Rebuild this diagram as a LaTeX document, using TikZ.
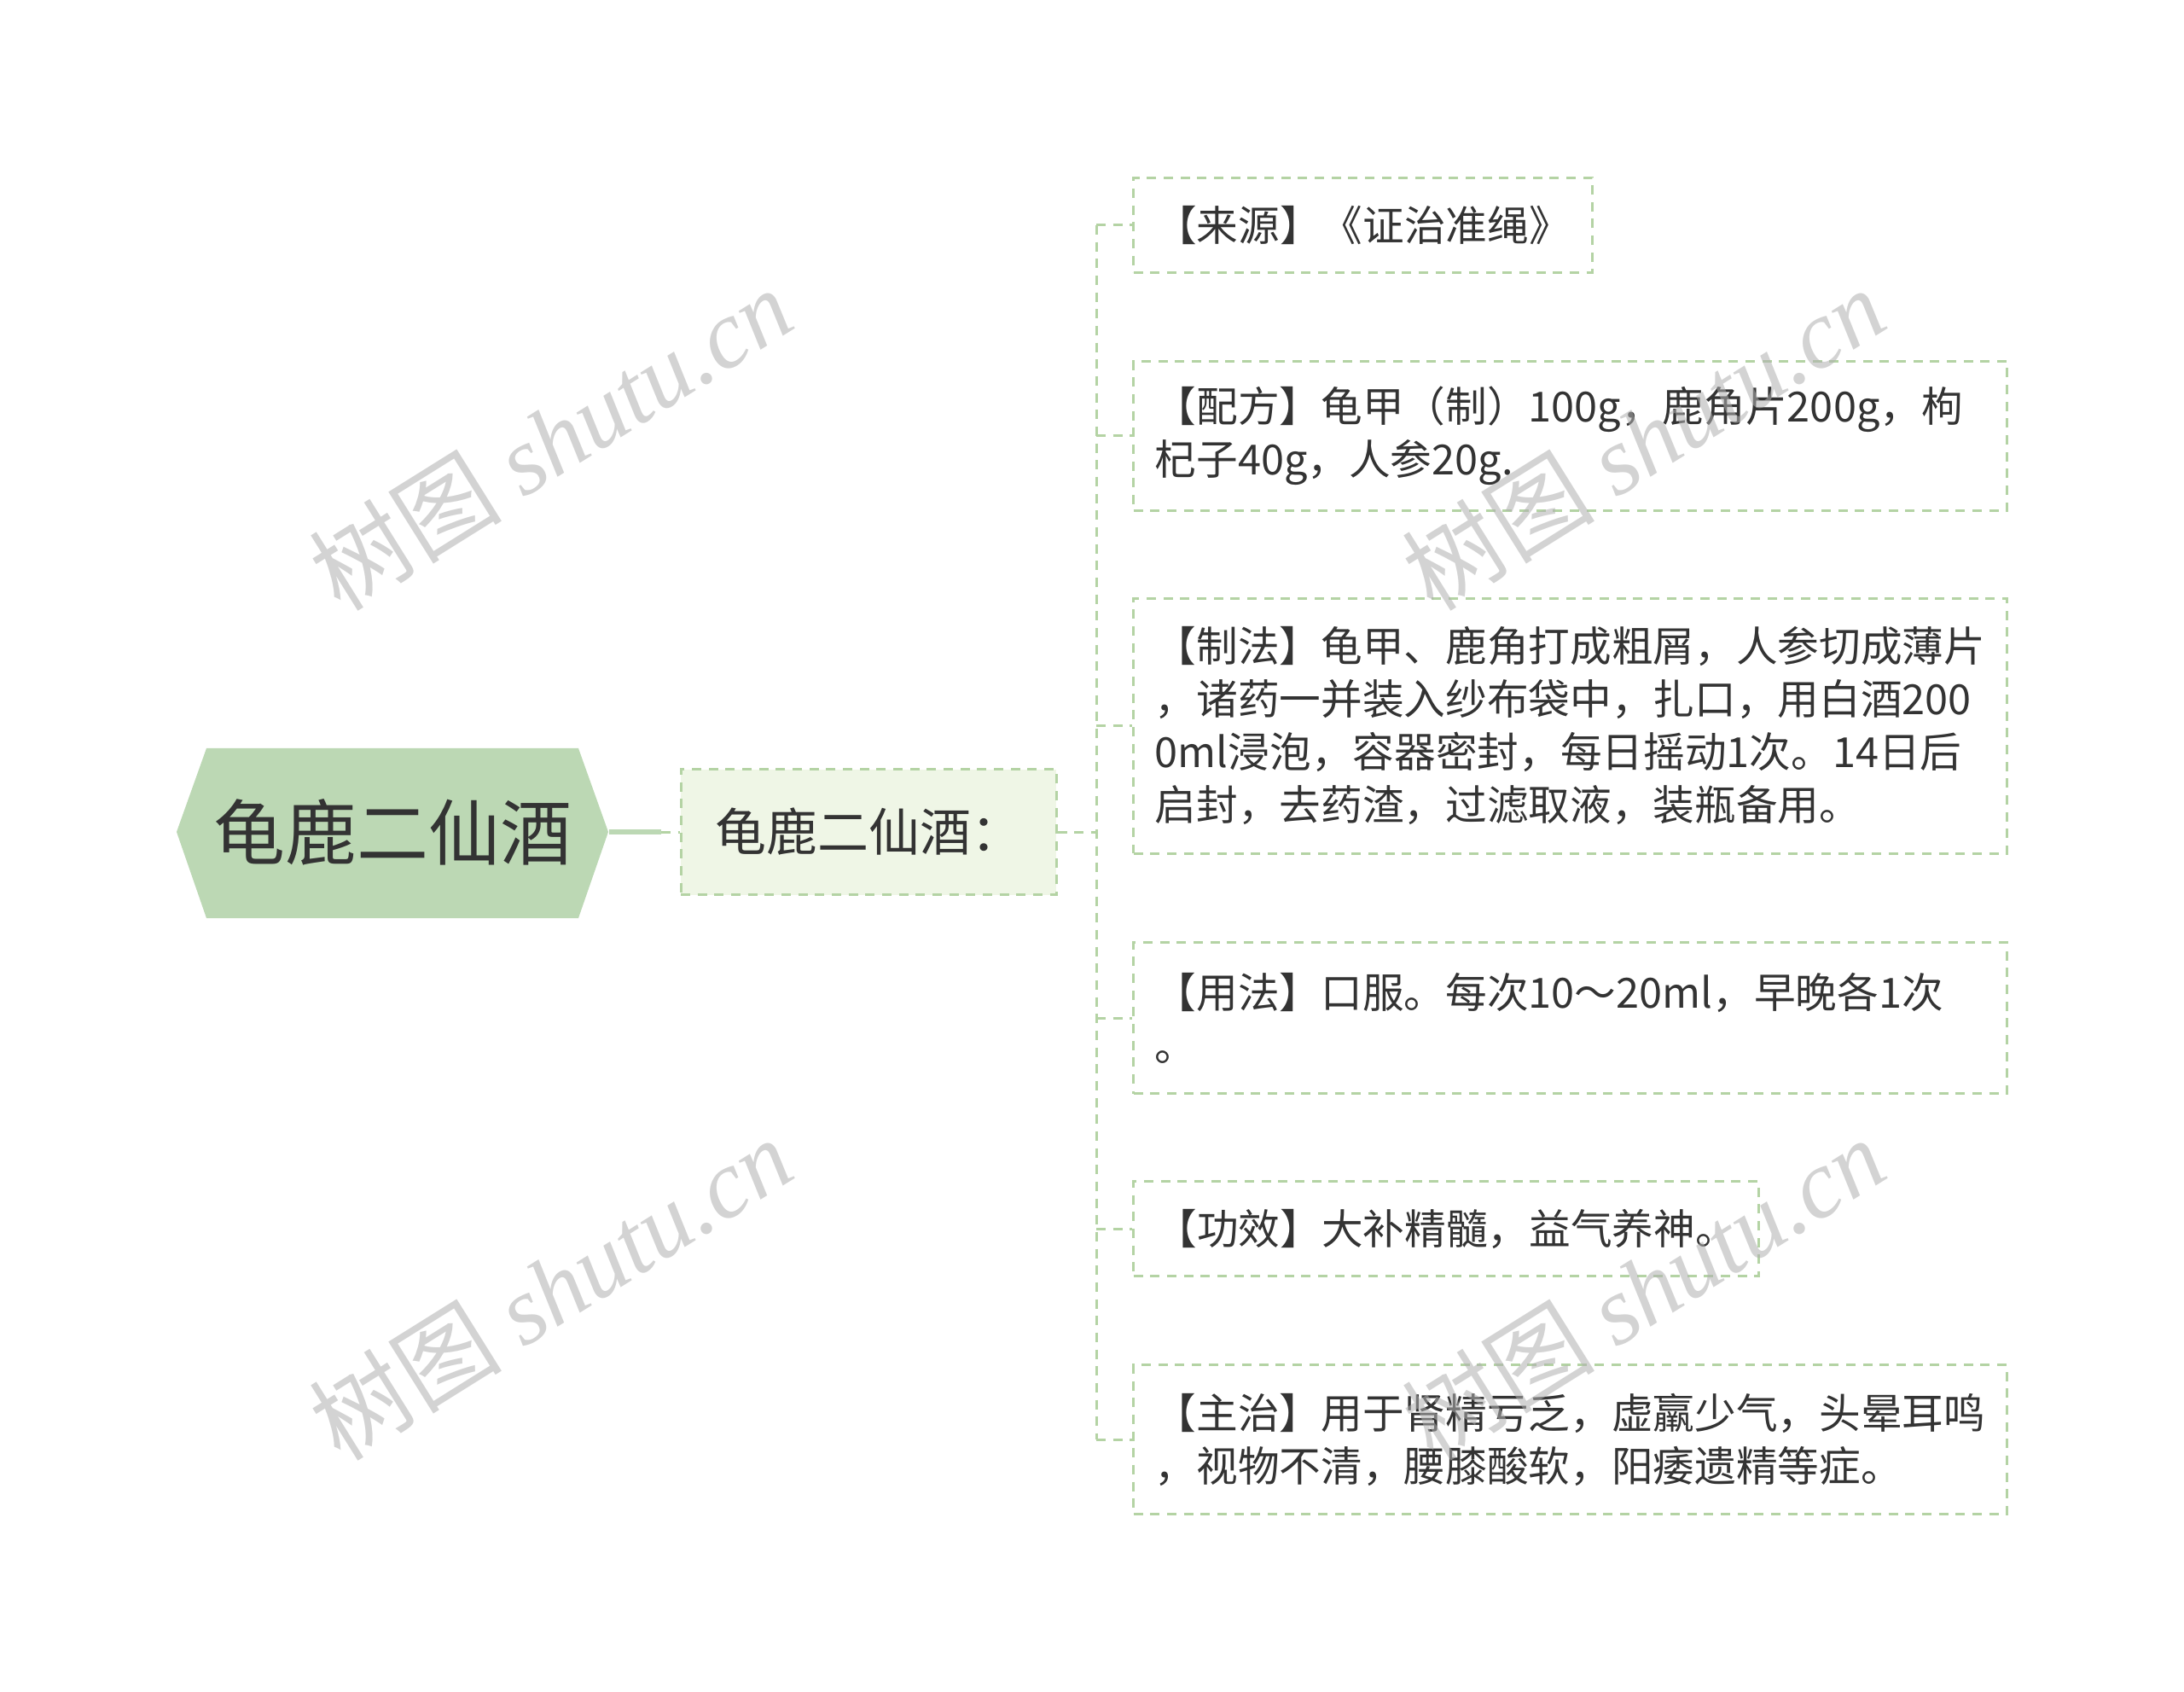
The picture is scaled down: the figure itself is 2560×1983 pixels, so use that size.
\documentclass[tikz,border=0pt]{standalone}
\usepackage{fontspec}
\setmainfont{Noto Sans CJK SC}
\newfontfamily\wmlatin{Liberation Serif}
\definecolor{bd}{HTML}{B4D3A4}
\definecolor{rootfill}{HTML}{BCD8B4}
\definecolor{childfill}{HTML}{EFF6E6}
\definecolor{txt}{HTML}{333333}
\definecolor{wm}{HTML}{B0B0B0}
\tikzset{
  dsh/.style={dash pattern=on 3.3pt off 2.6pt},
  conn/.style={draw=bd, line width=0.9pt, dsh},
  leaf/.style={draw=bd, line width=0.9pt, dsh, fill=white, anchor=west, align=left,
    inner xsep=0pt, inner ysep=0pt, text=txt,
    font=\fontsize{14.6pt}{18.6pt}\selectfont},
  wmark/.style={text=wm, opacity=0.55, rotate=32, font=\fontsize{34pt}{36pt}\selectfont}
}
\begin{document}
\begin{tikzpicture}[x=0.3pt, y=-0.3pt]
\useasboundingbox (0,0) rectangle (2560,1983);
\fill[white] (0,0) rectangle (2560,1983);
% root
\fill[rootfill] (207,975) -- (242,877) -- (678,877) -- (713,975) -- (678,1076) -- (242,1076) -- cycle;
\node[minimum width=151.8pt, minimum height=59.7pt, inner sep=0pt, text=txt,
  font=\fontsize{25.2pt}{28pt}\selectfont] (root) at (460,975) {龟鹿二仙酒};
% child
\node[draw=bd, line width=0.9pt, dsh, fill=childfill, minimum width=132pt, minimum height=44.1pt,
  inner sep=0pt, text=txt, font=\fontsize{18pt}{20pt}\selectfont] (child) at (1018,975) {龟鹿二仙酒：};
\coordinate (mid) at (775,975);
\draw[rootfill, line width=1.8pt] (root.east) -- (mid);
\draw[conn] (mid) -- (child.west);
% leaves
\node[leaf, minimum width=161.4pt, text width=146pt, minimum height=33.3pt] (l1) at (1327,264) {【来源】《证治准绳》};
\node[leaf, minimum width=307.2pt, text width=292pt, minimum height=52.5pt] (l2) at (1327,511) {【配方】龟甲（制）100g，鹿角片200g，枸\\杞子40g，人参20g.};
\node[leaf, minimum width=307.2pt, text width=292pt, minimum height=89.7pt] (l3) at (1327,851) {【制法】龟甲、鹿角打成粗屑，人参切成薄片\\，诸药一并装入纱布袋中，扎口，用白酒200\\0ml浸泡，容器密封，每日摇动1次。14日后\\启封，去药渣，过滤取液，装瓶备用。};
\node[leaf, minimum width=307.2pt, text width=292pt, minimum height=53.1pt] (l4) at (1327,1193) {【用法】口服。每次10～20ml，早晚各1次\\。};
\node[leaf, minimum width=219.9pt, text width=204.3pt, minimum height=33.3pt] (l5) at (1327,1440) {【功效】大补精髓，益气养神。};
\node[leaf, minimum width=307.2pt, text width=292pt, minimum height=52.5pt] (l6) at (1327,1687) {【主治】用于肾精亏乏，虚羸少气，头晕耳鸣\\，视物不清，腰膝酸软，阳痿遗精等症。};
% trunk and branches
\coordinate (trunk) at (1285,975);
\draw[conn] (child.east) -- (trunk);
\draw[conn] (trunk |- l1.west) -- (trunk |- l6.west);
\foreach \n in {l1,l2,l3,l4,l5,l6}{
  \draw[conn] (trunk |- \n.west) -- (\n.west);
}
% watermarks
\node[wmark] (w1) at (645,514) {树图 {\wmlatin\itshape shutu.cn}};
\node[wmark] (w2) at (1926,514) {树图 {\wmlatin\itshape shutu.cn}};
\node[wmark] (w3) at (645,1510) {树图 {\wmlatin\itshape shutu.cn}};
\node[wmark] (w4) at (1926,1510) {树图 {\wmlatin\itshape shutu.cn}};
\end{tikzpicture}
\end{document}
